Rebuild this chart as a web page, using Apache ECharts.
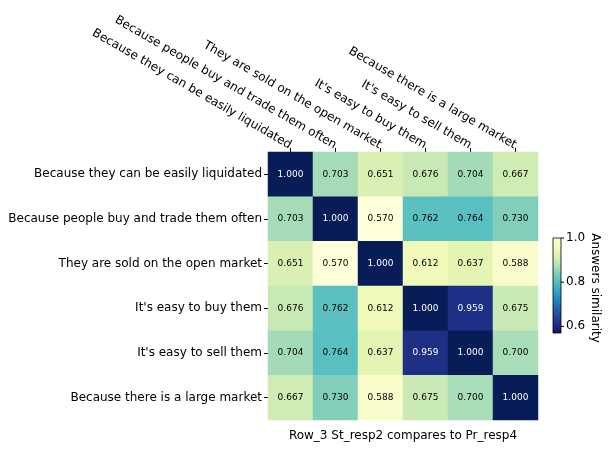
<!DOCTYPE html>
<html><head><meta charset="utf-8">
<script src="https://cdn.jsdelivr.net/npm/echarts@6/dist/echarts.min.js"></script>
<style>html,body{margin:0;background:#fff}#c{width:608px;height:450px}</style>
</head><body><div id="c"></div>
<script>
var categories = ["Because they can be easily liquidated","Because people buy and trade them often","They are sold on the open market","It's easy to buy them","It's easy to sell them","Because there is a large market"];
var matrix = [
  [1.000,0.703,0.651,0.676,0.704,0.667],
  [0.703,1.000,0.570,0.762,0.764,0.730],
  [0.651,0.570,1.000,0.612,0.637,0.588],
  [0.676,0.762,0.612,1.000,0.959,0.675],
  [0.704,0.764,0.637,0.959,1.000,0.700],
  [0.667,0.730,0.588,0.675,0.700,1.000]
];
var barTicks = [0.6, 0.8, 1.0];
var vMin = 0.57, vMax = 1.0;
var palette = ['#ffffd9','#edf8b1','#c7e9b4','#7fcdbb','#41b6c4','#1d91c0','#225ea8','#253494','#081d58'];

var data = [];
matrix.forEach(function(row, r){ row.forEach(function(v, c){
  data.push({value:[c, r, v], label:{color: v > 0.85 ? '#fff' : '#000'}});
}); });

var chart = echarts.init(document.getElementById('c'));
var barTop = 238, barH = 95, barLeft = 553;
var stops = palette.map(function(c, i){ return {offset: 1 - i/(palette.length-1), color: c}; }).reverse();
var graphics = [{type:'rect', shape:{x:barLeft,y:barTop,width:8,height:barH},
  style:{fill:new echarts.graphic.LinearGradient(0,0,0,1,stops.slice().reverse().map(function(s){return {offset:1-s.offset,color:s.color};}).sort(function(a,b){return a.offset-b.offset;})), stroke:'#000', lineWidth:0.8}}];
barTicks.forEach(function(t){
  var y = barTop + (vMax - t) / (vMax - vMin) * barH;
  graphics.push({type:'line', shape:{x1:barLeft+8,y1:y,x2:barLeft+11,y2:y}, style:{stroke:'#000',lineWidth:1}});
  graphics.push({type:'text', x:barLeft+13, y:y, style:{text:t.toFixed(1), fill:'#000', verticalAlign:'middle', font:'12px DejaVu Sans'}});
});
graphics.push({type:'text', x:595, y:288, rotation:-Math.PI/2, style:{text:'Answers similarity', fill:'#000', align:'center', verticalAlign:'middle', font:'12px DejaVu Sans'}});

chart.setOption({
  animation:false,
  textStyle:{fontFamily:'DejaVu Sans'},
  grid:{left:268, top:152, width:270, height:268, outerBoundsMode:'none', containLabel:false},
  xAxis:{type:'category', position:'top', data:categories,
    axisLine:{show:false}, axisTick:{show:true, alignWithLabel:true, length:4, lineStyle:{color:'#000'}},
    axisLabel:{rotate:-30, fontSize:12, color:'#000', interval:0, margin:6},
    name:'Row_3 St_resp2 compares to Pr_resp4', nameLocation:'middle', nameGap:-290,
    nameTextStyle:{fontSize:12, color:'#000'}},
  yAxis:{type:'category', data:categories, inverse:true,
    axisLine:{show:false}, axisTick:{show:true, alignWithLabel:true, length:4, lineStyle:{color:'#000'}},
    axisLabel:{fontSize:12, color:'#000', interval:0, margin:6}},
  visualMap:{type:'continuous', min:vMin, max:vMax, show:false, inRange:{color:palette}},
  graphic:graphics,
  series:[{type:'heatmap', data:data,
    label:{show:true, fontSize:9, formatter:function(p){return p.value[2].toFixed(3);}},
    emphasis:{disabled:true}}]
});
// flip top labels so they read down toward their ticks
chart.setOption({xAxis:{axisLabel:{rotate:30}}});
</script></body></html>
